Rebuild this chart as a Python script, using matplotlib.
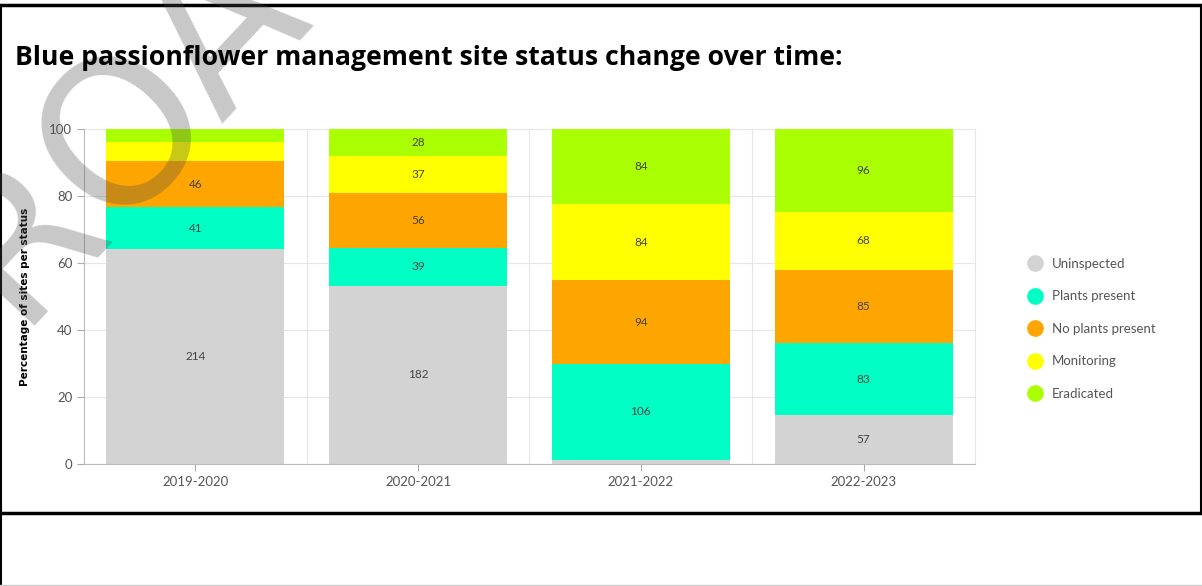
import matplotlib
matplotlib.use("Agg")
import matplotlib.pyplot as plt
from matplotlib.lines import Line2D
import numpy as np

# site counts per season
years = ['2019-2020', '2020-2021', '2021-2022', '2022-2023']
statuses = ['Uninspected', 'Plants present', 'No plants present', 'Monitoring', 'Eradicated']
uninspected = [214, 182, 5, 57]
plants_present = [41, 39, 106, 83]
no_plants_present = [46, 56, 94, 85]
monitoring = [19, 37, 84, 68]
eradicated = [13, 28, 84, 96]
colors = ['#d3d3d3', '#00ffc5', '#ffa500', '#ffff00', '#aaff00']

counts = np.array([uninspected, plants_present, no_plants_present, monitoring, eradicated], dtype=float)
pct = counts / counts.sum(axis=0) * 100

W, H = 1202, 586
fig = plt.figure(figsize=(W / 100, H / 100), dpi=100)
fig.patch.set_facecolor('white')

ax = fig.add_axes([84 / W, 1 - 464 / H, 891 / W, 335 / H])
x = np.arange(len(years))
bottom = np.zeros(len(years))
for i, name in enumerate(statuses):
    ax.bar(x, pct[i], 0.8, bottom=bottom, color=colors[i], zorder=2)
    for j in range(len(years)):
        if pct[i, j] >= 7:
            ax.text(x[j], bottom[j] + pct[i, j] / 2, '%d' % counts[i, j],
                    ha='center', va='center', fontsize=8.5, color='#444444',
                    family='Lato', zorder=3)
    bottom += pct[i]

ax.set_xlim(-0.5, len(years) - 0.5)
ax.set_ylim(0, 100)
ax.set_yticks([0, 20, 40, 60, 80, 100])
ax.set_xticks(x)
ax.set_xticklabels(years)
ax.set_xticks(x[:-1] + 0.5, minor=True)
ax.tick_params(axis='both', which='major', labelsize=9.5, labelcolor='#555555',
               color='#aaaaaa', length=5, width=0.8)
ax.tick_params(axis='x', which='minor', length=0)
for lab in ax.get_xticklabels() + ax.get_yticklabels():
    lab.set_family('Lato')
ax.grid(axis='y', which='major', color='#e6e6e6', lw=0.8, zorder=0)
ax.grid(axis='x', which='minor', color='#e6e6e6', lw=0.8, zorder=0)
for s in ['left', 'bottom']:
    ax.spines[s].set_color('#bbbbbb')
ax.spines['top'].set_visible(False)
ax.spines['right'].set_color('#e6e6e6')

ax.set_ylabel('Percentage of sites per status', fontsize=7.5, fontweight='bold', color='black')
ax.yaxis.set_label_coords((30 - 84) / 891, 0.5)

# legend on the right
handles = [Line2D([], [], marker='o', ls='', markersize=11, markerfacecolor=c,
                  markeredgecolor=c) for c in colors]
leg = fig.legend(handles, statuses, loc='upper left', bbox_to_anchor=(1010 / W, 1 - 246 / H),
                 frameon=False, labelspacing=1.55, handletextpad=0.25,
                 prop={'family': 'Lato', 'size': 9.5})
for t in leg.get_texts():
    t.set_color('#555555')

fig.text(15 / W, 1 - 58 / H, 'Blue passionflower management site status change over time:',
         fontsize=19.2, fontweight='bold', family='Open Sans', va='center', ha='left',
         color='black', zorder=6)

# watermark
fig.text(122 / W, 1 - 130 / H, 'ROA', fontsize=145, rotation=47, rotation_mode='anchor',
         ha='center', va='center', color='#4e4e4e', alpha=0.31, zorder=5)

# page frame lines
fig.add_artist(Line2D([0, 1], [1 - 5 / H, 1 - 5 / H], color='black', lw=2.5))
fig.add_artist(Line2D([0, 1], [1 - 513 / H, 1 - 513 / H], color='black', lw=2.5))
fig.add_artist(Line2D([1 / W, 1 / W], [0, 1 - 5 / H], color='black', lw=1.5))
fig.add_artist(Line2D([1 - 1 / W, 1 - 1 / W], [1 - 513 / H, 1 - 5 / H], color='black', lw=1.5))
fig.add_artist(Line2D([0, 1], [1 / H, 1 / H], color='#cccccc', lw=1))

fig.savefig('out.png', dpi=100)
